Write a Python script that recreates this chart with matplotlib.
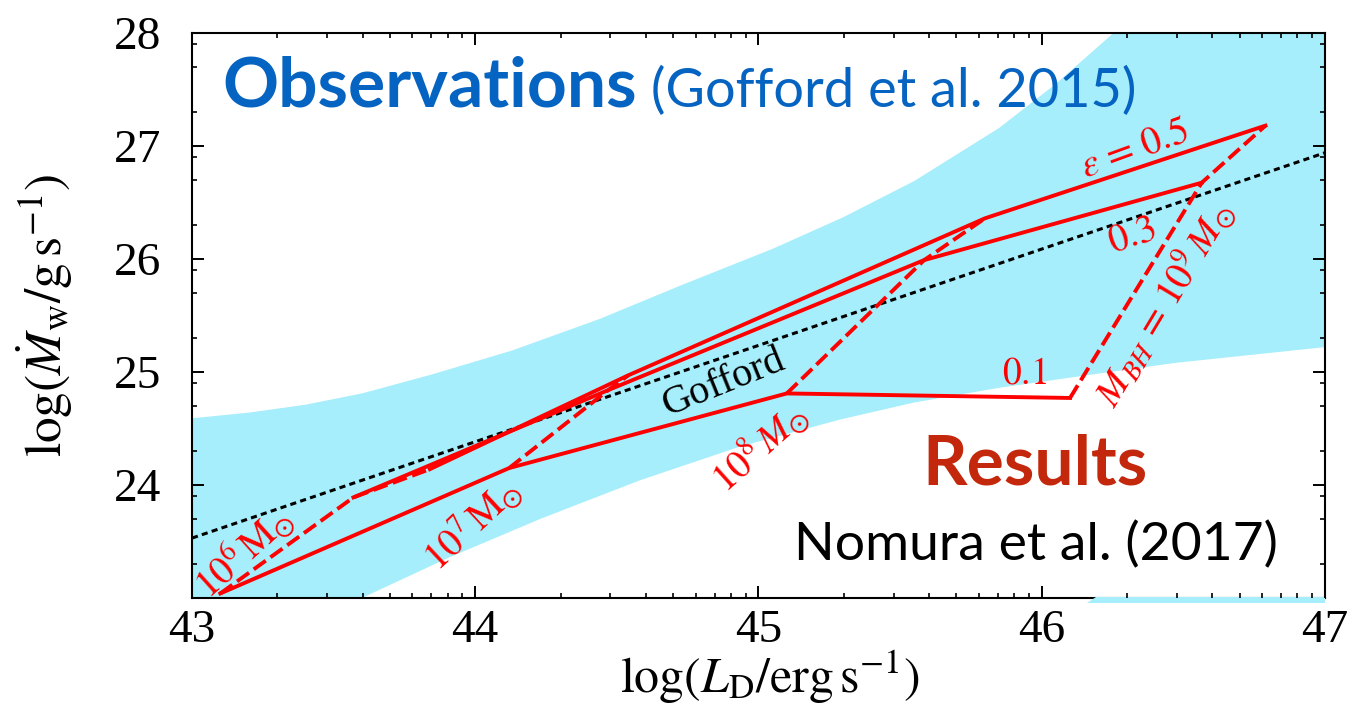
import numpy as np
import matplotlib
matplotlib.use('Agg')
import matplotlib.pyplot as plt
from matplotlib.ticker import FixedLocator

plt.rcParams['mathtext.fontset'] = 'stix'
plt.rcParams['font.family'] = ['Liberation Serif', 'DejaVu Serif']

# model results: log L_D and log Mdot_w for M_BH = 1e6, 1e7, 1e8, 1e9
logL_e01 = [43.10, 44.12, 45.10, 46.10]
logMw_e01 = [23.04, 24.15, 24.81, 24.77]
logL_e03 = [43.57, 44.47, 45.585, 46.565]
logMw_e03 = [23.89, 24.84, 25.99, 26.675]
logL_e05 = [43.84, 44.54, 45.80, 46.79]
logMw_e05 = [24.14, 24.97, 26.36, 27.18]

# Gofford et al. 2015 relation
gofford_L = [43.0, 47.0]
gofford_Mw = [23.53, 26.94]

# edges of the observed range (shaded)
band_up_L = [43.00, 43.20, 43.40, 43.60, 43.85, 44.13, 44.44, 44.72, 45.05, 45.30, 45.55, 45.85, 46.05, 46.24, 46.60, 47.00]
band_up_Mw = [24.59, 24.64, 24.71, 24.81, 24.98, 25.19, 25.47, 25.76, 26.09, 26.37, 26.69, 27.16, 27.55, 27.97, 28.80, 29.80]
band_lo_L = [43.00, 43.60, 43.90, 44.23, 44.58, 44.935, 45.29, 45.55, 45.85, 46.10, 46.47, 47.00]
band_lo_Mw = [22.30, 23.00, 23.35, 23.70, 24.04, 24.34, 24.58, 24.73, 24.86, 24.95, 25.08, 25.22]

RED = '#ff0000'
CYAN = '#a6eefb'

fig = plt.figure(figsize=(13.56, 7.09), dpi=100)
ax = fig.add_axes([0.1416, 0.1566, 0.8355, 0.7969])

ax.fill(np.r_[band_up_L, band_lo_L[::-1]], np.r_[band_up_Mw, band_lo_Mw[::-1]],
        color=CYAN, lw=0, zorder=1)

ax.plot(gofford_L, gofford_Mw, color='black', lw=2.2, ls=(0, (2.0, 1.4)), zorder=2)

for xs, ys in [(logL_e01, logMw_e01), (logL_e03, logMw_e03), (logL_e05, logMw_e05)]:
    ax.plot(xs, ys, color=RED, lw=2.8, solid_joinstyle='miter', zorder=3)
for i in range(4):
    ax.plot([logL_e01[i], logL_e03[i], logL_e05[i]],
            [logMw_e01[i], logMw_e03[i], logMw_e05[i]],
            color=RED, lw=2.8, ls=(0, (3.8, 1.5)), zorder=3)

ax.set_xlim(43, 47)
ax.set_ylim(23, 28)
ax.set_xticks([43, 44, 45, 46, 47])
ax.set_yticks([24, 25, 26, 27, 28])
ax.xaxis.set_minor_locator(FixedLocator([d + np.log10(k) for d in range(43, 47) for k in range(2, 10)]))
ax.yaxis.set_minor_locator(FixedLocator([d + np.log10(k) for d in range(23, 28) for k in (2, 5, 8)]))
ax.tick_params(which='both', direction='in', top=True, right=True, labelsize=34)
ax.tick_params(which='major', length=8.6, width=1.4)
ax.tick_params(which='minor', length=3.6, width=1.2)
ax.tick_params(axis='x', pad=8)
ax.tick_params(axis='y', pad=22)
for s in ax.spines.values():
    s.set_linewidth(1.5)

# slide overlay covers the bottom spine on the right
ax.fill([46.16, 47.0, 47.0, 46.19], [22.955, 22.955, 23.01, 23.01], color=CYAN, lw=0,
        clip_on=False, zorder=2.6)
ax.xaxis.set_zorder(2.7)

ax.set_xlabel(r'$\log(L_{\rm D}/{\rm erg\,s^{-1}})$', fontsize=36)
ax.set_ylabel(r'$\log(\dot{M}_{\rm w}/{\rm g\,s^{-1}})$', fontsize=37)
ax.xaxis.set_label_coords(0.51, -0.09)
ax.yaxis.set_label_coords(-0.103, 0.5)

# labels on the curves
ax.text(44.876, 24.90, 'Gofford', fontsize=29, rotation=22, ha='center', va='center',
        rotation_mode='anchor', zorder=4)
ax.text(46.33, 26.97, r'$\varepsilon\,=\,0.5$', color=RED, fontsize=28, rotation=20,
        ha='center', va='center', rotation_mode='anchor')
ax.text(46.32, 26.20, r'$0.3$', color=RED, fontsize=28, rotation=18,
        ha='center', va='center', rotation_mode='anchor')
ax.text(45.94, 24.98, r'$0.1$', color=RED, fontsize=27, ha='center', va='center')
ax.text(46.43, 25.61, r'$M_{BH}\,=\,10^9\,M_{\odot}$', color=RED, fontsize=28, rotation=59,
        ha='center', va='center', rotation_mode='anchor')
ax.text(45.005, 24.34, r'$10^8\,M_{\odot}$', color=RED, fontsize=28, rotation=42,
        ha='center', va='center', rotation_mode='anchor')
ax.text(43.99, 23.65, r'$10^7\,\mathrm{M}_{\odot}$', color=RED, fontsize=28, rotation=43,
        ha='center', va='center', rotation_mode='anchor')
ax.text(43.18, 23.41, r'$10^6\,\mathrm{M}_{\odot}$', color=RED, fontsize=28, rotation=42,
        ha='center', va='center', rotation_mode='anchor')

# slide annotations
ax.text(43.106, 27.345, 'Observations', family='Lato', fontweight='bold', fontsize=50,
        color='#0563c1', ha='left', va='baseline', zorder=5)
ax.text(44.62, 27.345, '(Gofford et al. 2015)', family='Lato', fontsize=39,
        color='#0563c1', ha='left', va='baseline', zorder=5)
ax.text(45.577, 24.0, 'Results', family='Lato', fontweight='bold', fontsize=50,
        color='#c3270c', ha='left', va='baseline', zorder=5)
ax.text(45.125, 23.33, 'Nomura et al. (2017)', family='Lato', fontsize=38.5,
        color='black', ha='left', va='baseline', zorder=5)

fig.savefig('out.png', dpi=100)
